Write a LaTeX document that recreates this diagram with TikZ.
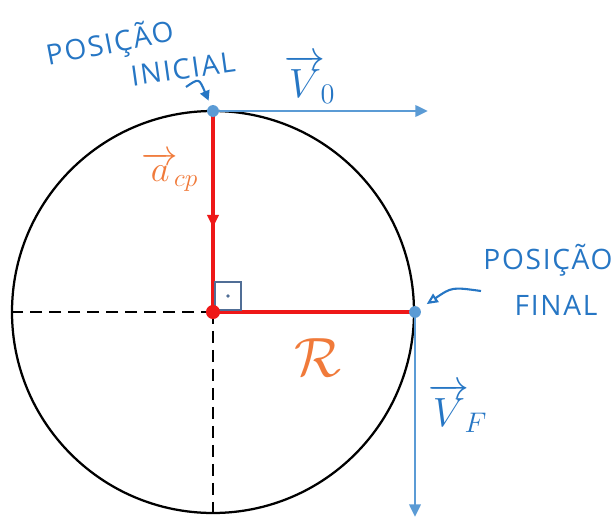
\documentclass[tikz,border=0pt]{standalone}
\usepackage{amsmath}
\usepackage{fontspec}
\setsansfont{Open Sans}
\usetikzlibrary{arrows.meta,decorations.markings}
\definecolor{penblue}{RGB}{38,118,196}
\definecolor{vecblue}{RGB}{91,155,213}
\definecolor{penred}{RGB}{238,24,24}
\definecolor{penorange}{RGB}{240,122,58}
\definecolor{markgray}{RGB}{80,110,150}

\begin{document}
\begin{tikzpicture}[x=0.25mm,y=-0.25mm,>=Stealth,
    hand/.style={font=\sffamily\fontsize{20}{22}\selectfont\addfontfeature{LetterSpace=6},
      text=penblue,inner sep=1pt},
    veclbl/.style={font=\huge,scale=1.4,text=penblue,inner sep=1pt},
    vecline/.style={vecblue,line width=2pt,-{Triangle[length=9pt,width=8pt]}}]
  \useasboundingbox (0,0) rectangle (616,517);

  % The circle, with its dashed diameters.
  \coordinate (C) at (213,312);
  \coordinate (T) at (213,111);
  \coordinate (E) at (415,312);
  \coordinate (W) at (12,312);
  \coordinate (S) at (213,513);
  \draw[line width=1.6pt] (C) circle[radius=50.25mm];
  \draw[line width=1.8pt,dash pattern=on 8.5pt off 5pt] (C)--(W);
  \draw[line width=1.8pt,dash pattern=on 8.5pt off 5pt] (C)--(S);

  % Velocities at the two positions.
  \coordinate (Vo) at (428,111);
  \coordinate (Vf) at (415,517);
  \draw[vecline] (T)--(Vo);
  \draw[vecline] (E)--(Vf);
  \node[veclbl] (vo) at (310,79) {$\overrightarrow{V}_{\!0}$};
  \node[veclbl] (vf) at (458,408) {$\overrightarrow{V}_{\!F}$};

  % Centripetal acceleration and the radius.
  \draw[penred,line width=3.5pt,
    postaction={decorate},
    decoration={markings,
      mark=at position 0.58 with {\arrow{Triangle[length=9pt,width=8pt]}}}]
    (T)--(C);
  \draw[penred,line width=3.5pt] (C)--(E);
  \draw[markgray,line width=1pt] (215,282) rectangle (241,310);
  \fill[markgray] (228,296) circle (1.3pt);
  \fill[penred] (C) circle (5pt);
  \fill[vecblue] (T) circle (4.2pt);
  \fill[vecblue] (E) circle (4.2pt);
  \node[text=penorange,font=\huge,scale=1.25,inner sep=1pt] (acp) at (170,172)
    {$\overrightarrow{a}_{\!cp}$};
  \node[text=penorange,font=\huge,scale=1.9,inner sep=1pt] (rad) at (318,358)
    {$\mathcal{R}$};

  % Hand-written notes and their pointers.
  \node[hand,rotate=11] (posi) at (110,44) {POSIÇÃO};
  \node[hand,rotate=8] (inic) at (183,69) {INICIAL};
  \coordinate (inarr) at (186,87);
  \draw[penblue,line width=1.5pt,-{Triangle[length=7pt,width=7pt]},shorten >=8pt]
    (inarr) .. controls (199,78) .. (T);
  \node[hand] (posf) at (548,260) {POSIÇÃO};
  \node[hand] (fin) at (556,305) {FINAL};
  \coordinate (finarr) at (481,291);
  \draw[penblue,line width=1.5pt,-{Triangle[open,length=8pt,width=7pt]},shorten >=10pt]
    (finarr) .. controls (452,287) .. (E);
\end{tikzpicture}
\end{document}
